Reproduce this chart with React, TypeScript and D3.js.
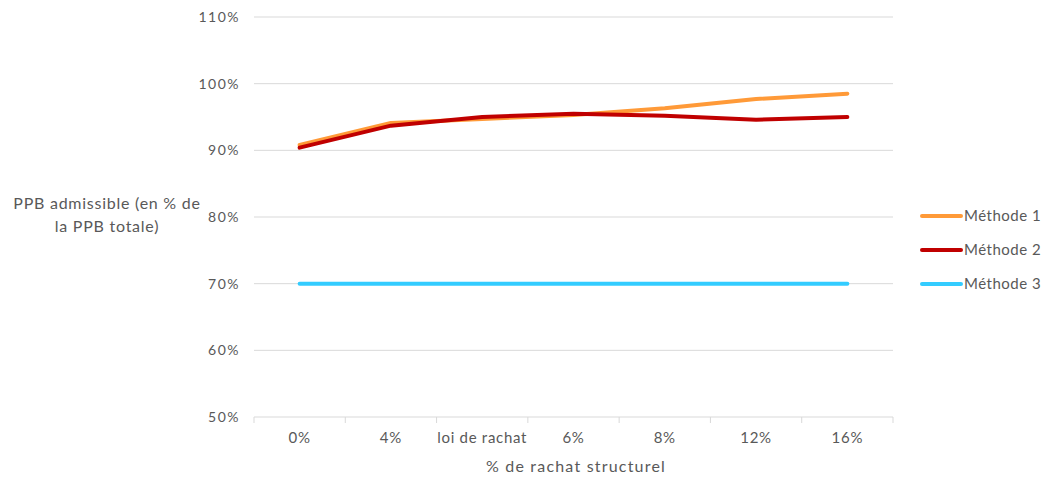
import React from "react";
import * as d3 from "d3";

// Structural surrender rate scenarios (x axis)
const categories = ["0%", "4%", "loi de rachat", "6%", "8%", "12%", "16%"];

// Admissible PPB as a share of total PPB, per method
const methode1 = [0.908, 0.941, 0.947, 0.953, 0.963, 0.977, 0.985];
const methode2 = [0.904, 0.937, 0.950, 0.955, 0.952, 0.946, 0.950];
const methode3 = [0.70, 0.70, 0.70, 0.70, 0.70, 0.70, 0.70];

const yTicks = [0.5, 0.6, 0.7, 0.8, 0.9, 1.0, 1.1];

const seriesNames = ["Méthode 1", "Méthode 2", "Méthode 3"];
const seriesColors = ["#FF9A38", "#C00000", "#33CCFF"];

const W = 1045;
const H = 479;
const plot = { left: 254, right: 893, top: 17, bottom: 417 };
const FONT = "Lato, 'Open Sans', sans-serif";
const TEXT = "#595959";
const GRID = "#D9D9D9";

export default function App() {
  const x = d3
    .scaleBand<string>()
    .domain(categories)
    .range([plot.left, plot.right])
    .paddingInner(0)
    .paddingOuter(0);
  const y = d3.scaleLinear().domain([0.5, 1.1]).range([plot.bottom, plot.top]);

  const cx = (c: string) => (x(c) ?? 0) + x.bandwidth() / 2;

  const line = d3
    .line<number>()
    .x((_, i) => cx(categories[i]))
    .y((v) => y(v))
    .curve(d3.curveLinear);

  const series = [methode1, methode2, methode3];
  const edges = [...categories.map((c) => x(c) ?? 0), plot.right];
  const pct = d3.format(".0%");

  return (
    <svg
      width={W}
      height={H}
      style={{ display: "block", position: "absolute", left: 0, top: 0, background: "#fff" }}
      fontFamily={FONT}
    >
      {/* horizontal gridlines and y tick labels */}
      {yTicks.map((t) => (
        <g key={t}>
          <line x1={plot.left} x2={plot.right} y1={y(t)} y2={y(t)} stroke={GRID} strokeWidth={1} />
          <text
            x={240}
            y={y(t)}
            dy="0.35em"
            textAnchor="end"
            fontSize={14}
            letterSpacing={1.5}
            fill={TEXT}
          >
            {pct(t)}
          </text>
        </g>
      ))}

      {/* category tick marks */}
      {edges.map((e, i) => (
        <line key={i} x1={e} x2={e} y1={plot.bottom} y2={plot.bottom + 6} stroke={GRID} strokeWidth={1} />
      ))}

      {/* category labels */}
      {categories.map((c) => (
        <text
          key={c}
          x={cx(c)}
          y={438}
          dy="0.35em"
          textAnchor="middle"
          fontSize={15}
          letterSpacing={0.7}
          fill={TEXT}
        >
          {c}
        </text>
      ))}

      {/* axis titles */}
      <text x={576} y={466} dy="0.35em" textAnchor="middle" fontSize={16} letterSpacing={1.2} fill={TEXT}>
        % de rachat structurel
      </text>
      <text x={107} y={203} dy="0.35em" textAnchor="middle" fontSize={16} letterSpacing={0.75} fill={TEXT}>
        PPB admissible (en % de
      </text>
      <text x={107} y={226} dy="0.35em" textAnchor="middle" fontSize={16} letterSpacing={0.75} fill={TEXT}>
        la PPB totale)
      </text>

      {/* data lines */}
      {series.map((s, k) => (
        <path
          key={k}
          d={line(s) ?? ""}
          fill="none"
          stroke={seriesColors[k]}
          strokeWidth={4}
          strokeLinejoin="round"
          strokeLinecap="round"
        />
      ))}

      {/* legend */}
      {seriesNames.map((n, k) => {
        const ly = 216 + k * 34;
        return (
          <g key={n}>
            <line x1={922} x2={961} y1={ly} y2={ly} stroke={seriesColors[k]} strokeWidth={4} strokeLinecap="round" />
            <text x={964} y={ly} dy="0.35em" fontSize={15} letterSpacing={0.5} fill={TEXT}>
              {n}
            </text>
          </g>
        );
      })}
    </svg>
  );
}
